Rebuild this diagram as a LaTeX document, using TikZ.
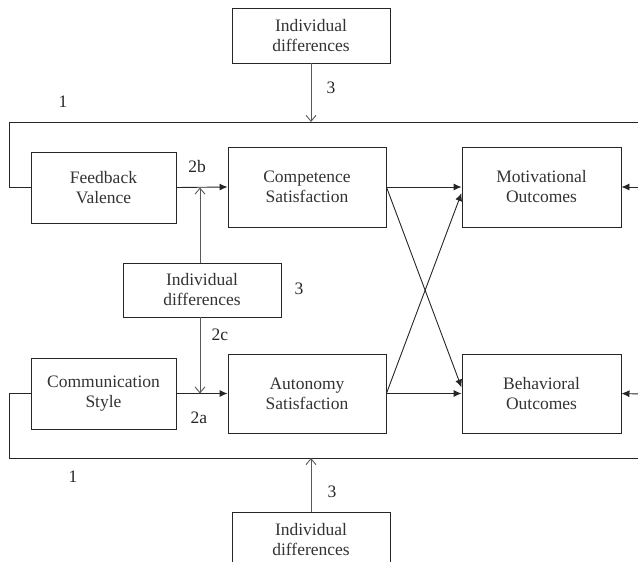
\documentclass[tikz,border=0pt]{standalone}
\usepackage{fontspec}
\setmainfont{Liberation Serif}
\usetikzlibrary{arrows.meta,calc}
\begin{document}
\begin{tikzpicture}[x=1pt,y=-1pt,
  box/.style={draw=black!85,line width=0.9pt,inner sep=0pt,align=center,text=black!80,
    font=\fontsize{17.5}{20}\selectfont},
  lab/.style={text=black!85,font=\fontsize{17.5}{20}\selectfont,inner sep=0pt},
  ln/.style={draw=black!85,line width=0.9pt},
  main/.style={ln,-{Latex[length=8pt,width=7pt]}},
  mod/.style={draw=black!65,line width=0.9pt,-{Straight Barb[length=6pt,width=10pt,line width=0.9pt]}}]
\useasboundingbox (0,0) rectangle (638,562);
\begin{scope}
\clip (0,0) rectangle (638,562);
\node[box,minimum width=158pt,minimum height=55pt] (idtop) at (311,35.5) {Individual\\differences};
\node[box,minimum width=145pt,minimum height=71pt] (fb) at (103.5,187.5) {Feedback\\Valence};
\node[box,minimum width=158pt,minimum height=80pt] (cs) at (307,187) {Competence\\Satisfaction};
\node[box,minimum width=159pt,minimum height=80pt] (mo) at (541.5,187) {Motivational\\Outcomes};
\node[box,minimum width=158pt,minimum height=54pt] (idmid) at (202,290) {Individual\\differences};
\node[box,minimum width=145pt,minimum height=71pt] (comm) at (103.5,393.5) {Communication\\Style};
\node[box,minimum width=158pt,minimum height=79pt] (as) at (307,393.5) {Autonomy\\Satisfaction};
\node[box,minimum width=159pt,minimum height=79pt] (bo) at (541.5,393.5) {Behavioral\\Outcomes};
\node[box,minimum width=158pt,minimum height=56pt] (idbot) at (311,540) {Individual\\differences};

\coordinate (tl) at (9,122);
\coordinate (tr) at (640,122);
\coordinate (bl) at (9,458);
\coordinate (br) at (640,458);
\coordinate (mr) at (640,187);
\coordinate (brr) at (640,394);

% feedback loops
\draw[ln] (fb.west) -| (tl) -- (tr);
\draw[ln] (comm.west) -| (bl) -- (br);
\draw[mod] (idtop.south) -- (idtop.south |- tr);
\draw[mod] (idbot.north) -- (idbot.north |- br);

% main paths
\draw[main] (fb.east) -- (cs.west);
\draw[main] (comm.east) -- (as.west);
\draw[main] (cs.east) -- (mo.west);
\draw[main] (as.east) -- (bo.west);
\draw[main] (cs.east) -- ([yshift=6pt]bo.west);
\draw[main] (as.east) -- ([yshift=-6pt]mo.west);
\draw[main] (mr) -- (mo.east);
\draw[main] (brr) -- (bo.east);

% moderator
\draw[mod] ([xshift=-2pt]idmid.north) -- ([xshift=-2pt]idmid.north |- fb.east);
\draw[mod] ([xshift=-2pt]idmid.south) -- ([xshift=-2pt]idmid.south |- comm.east);
\end{scope}

% labels
\node[lab] (l1a) at (63,102) {1};
\node[lab] (l1b) at (73,477) {1};
\node[lab] (l3a) at (331,88) {3};
\node[lab] (l3b) at (299,289) {3};
\node[lab] (l3c) at (332,492) {3};
\node[lab] (l2b) at (197,167) {2b};
\node[lab] (l2c) at (220,335) {2c};
\node[lab] (l2a) at (199,418) {2a};
\end{tikzpicture}
\end{document}
